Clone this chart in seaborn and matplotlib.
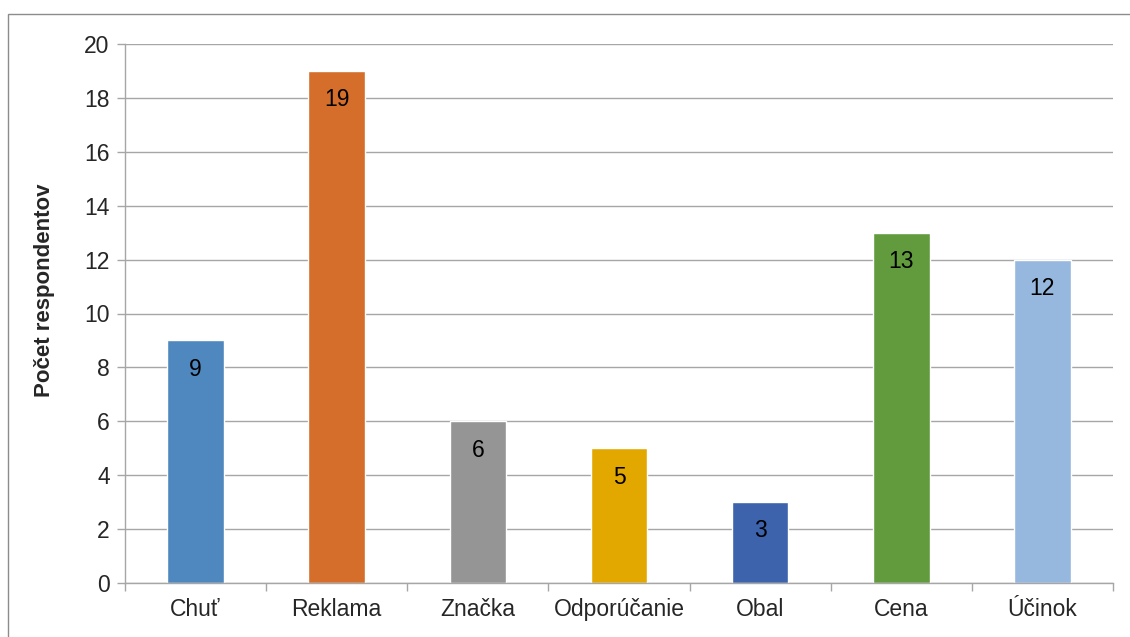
import matplotlib
matplotlib.use("Agg")
import matplotlib.pyplot as plt
import seaborn as sns
import pandas as pd
import numpy as np
from matplotlib.patches import Rectangle

categories = ["Chuť", "Reklama", "Značka", "Odporúčanie", "Obal", "Cena", "Účinok"]
values = [9, 19, 6, 5, 3, 13, 12]
colors = ["#4F88BE", "#D46E2A", "#959595", "#E3A800", "#3C63AC", "#629B3E", "#97B8DE"]
y_ticks = [0, 2, 4, 6, 8, 10, 12, 14, 16, 18, 20]
y_label = "Počet respondentov"

sns.set_style("white")
plt.rcParams['font.family'] = ['Liberation Sans', 'DejaVu Sans']

df = pd.DataFrame({"cat": categories, "val": values})

fig = plt.figure(figsize=(11.3, 6.37), dpi=100)
ax = fig.add_axes([125/1130, 1-583/637, (1113-125)/1130, (583-44)/637])

sns.barplot(data=df, x="cat", y="val", hue="cat", palette=colors, width=0.4,
            dodge=False, legend=False, ax=ax, saturation=1)

ax.set_xlim(-0.5, len(categories) - 0.5)
ax.set_ylim(0, 20)
ax.set_yticks(y_ticks)
ax.yaxis.grid(True, color="#A6A6A6", linewidth=1)
ax.set_axisbelow(True)
for s in ["top", "right"]:
    ax.spines[s].set_visible(False)
for s in ["left", "bottom"]:
    ax.spines[s].set_color("#A6A6A6")
    ax.spines[s].set_linewidth(1)

ax.tick_params(axis="y", which="major", length=6, color="#A6A6A6", width=1,
               labelsize=16.5, pad=5, left=True)
ax.tick_params(axis="x", which="major", length=0, labelsize=16.5, pad=11)
ax.set_xticks(np.arange(-0.5, len(categories), 1.0), minor=True)
ax.tick_params(axis="x", which="minor", length=6, color="#A6A6A6", width=1, bottom=True)

ax.set_xlabel("")
ax.set_ylabel(y_label, fontsize=16, fontweight="bold", va="center")
ax.yaxis.set_label_coords(-0.081, 0.544)

for cont in ax.containers:
    ax.bar_label(cont, padding=-29, fontsize=16.5, color="black")

fig.add_artist(Rectangle((8/1130, -0.1), 1.2, 1-14/637+0.1, transform=fig.transFigure,
                         fill=False, edgecolor="#8C8C8C", linewidth=1))

fig.savefig("out.png", dpi=100)
